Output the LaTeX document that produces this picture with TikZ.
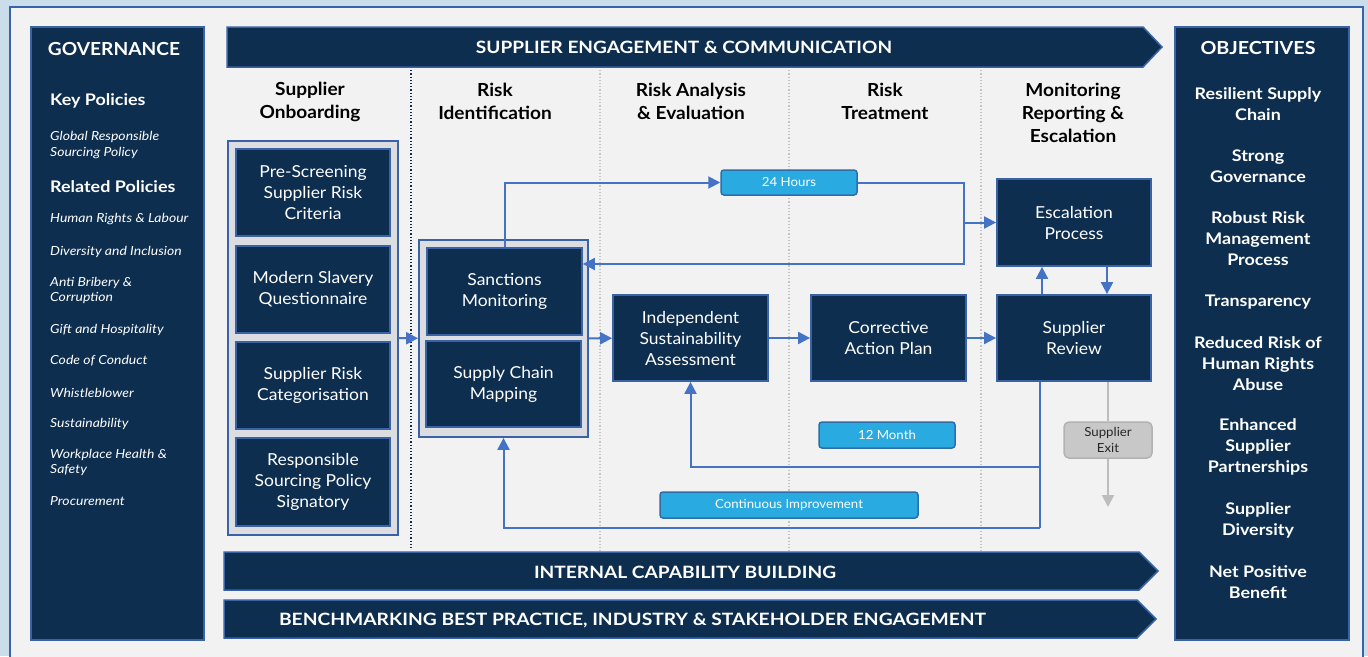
\documentclass[tikz,border=0pt]{standalone}
\usepackage{fontspec}
\setmainfont{Lato}[FakeStretch=1.06]
\newfontfamily\widefont{Lato}[FakeStretch=1.12]
\usepackage{graphicx}
\usetikzlibrary{arrows.meta,calc}
\definecolor{navy}{HTML}{0D2E4F}
\definecolor{bordblue}{HTML}{3A62A7}
\definecolor{lineblue}{HTML}{4472C4}
\definecolor{skyfill}{HTML}{29ABE2}
\definecolor{skyline}{HTML}{2E6DA8}
\definecolor{outerbg}{HTML}{C9DDEA}
\definecolor{framebg}{HTML}{F2F2F2}
\definecolor{groupbg}{HTML}{DCDDE1}
\definecolor{exitfill}{HTML}{C8C8C8}
\definecolor{exitline}{HTML}{B2B2B2}
\definecolor{exitarrow}{HTML}{BDBDBD}
\definecolor{divgrey}{HTML}{C4C4C4}
\newcommand\boxfont{\fontsize{16.5}{21}\selectfont}
\newcommand\headfont{\fontsize{18}{23}\selectfont\bfseries}
\newcommand\objfont{\widefont\fontsize{16}{21}\selectfont\bfseries}
\newcommand\polfont{\widefont\fontsize{12.5}{15.5}\selectfont\itshape}
\newcommand\labfont{\fontsize{12.5}{15}\selectfont}
\begin{document}
\begin{tikzpicture}[x=1pt,y=-1pt,
  navybox/.style={draw=bordblue, line width=1.8pt, fill=navy, text=white, inner sep=0pt, align=center, font=\boxfont},
  groupbox/.style={draw=bordblue, line width=1.8pt, fill=groupbg, inner sep=0pt},
  panel/.style={draw=bordblue, line width=1.5pt, fill=navy, inner sep=0pt},
  skylabel/.style={draw=skyline, line width=1.5pt, fill=skyfill, rounded corners=3pt, text=white, inner sep=0pt, font=\labfont},
  exitbox/.style={draw=exitline, line width=1.5pt, fill=exitfill, rounded corners=5pt, text=black!85, inner sep=0pt, align=center, font=\fontsize{12.5}{15.5}\selectfont},
  banner/.style={draw=bordblue, line width=1.5pt, fill=navy},
  bannertext/.style={text=white, font=\fontsize{17}{20}\selectfont\bfseries, inner sep=0pt},
  paneltitle/.style={text=white, font=\fontsize{18}{20}\selectfont\bfseries, inner sep=0pt},
  heading/.style={text=black, font=\headfont, align=center, inner sep=0pt},
  objtext/.style={text=white, font=\objfont, align=center, inner sep=0pt},
  poltext/.style={text=white, font=\polfont, align=left, anchor=west, inner sep=0pt},
  polhead/.style={text=white, font=\widefont\fontsize{16}{20}\selectfont\bfseries, anchor=west, inner sep=0pt},
  arr/.style={draw=lineblue, line width=2pt, -{Triangle[length=12pt,width=12pt]}},
  conn/.style={draw=lineblue, line width=2pt},
  greyarr/.style={draw=exitarrow, line width=2pt, -{Triangle[length=12pt,width=12pt]}},
  greyline/.style={draw=exitarrow, line width=2pt},
]
\useasboundingbox (0,0) rectangle (1368,656);
\fill[outerbg] (0,0) rectangle (1368,656);
\draw[draw=bordblue, line width=2pt, fill=framebg] (10,7) rectangle (1363,700);

% dividers
\draw[navy, line width=1.2pt, dotted] (411,67) -- (411,550);
\foreach \xx in {600,789,981} \draw[divgrey, line width=1.2pt, dotted] (\xx,67) -- (\xx,552);

% governance panel
\node[panel, minimum width=173pt, minimum height=613pt] (gov) at (117.5,333.5) {};
\node[paneltitle] (govt) at (114,48.5) {\resizebox{132pt}{\height}{GOVERNANCE}};
\node[polhead] (kp) at (50,100.5) {Key Policies};
\node[poltext] (p0) at (50,145) {Global Responsible\\Sourcing Policy};
\node[polhead] (rp) at (50,186.5) {Related Policies};
\node[poltext] (p1) at (50,219.5) {Human Rights \& Labour};
\node[poltext] (p2) at (50,251.5) {Diversity and Inclusion};
\node[poltext] (p3) at (50,290.5) {Anti Bribery \&\\Corruption};
\node[poltext] (p4) at (50,329.5) {Gift and Hospitality};
\node[poltext] (p5) at (50,360.5) {Code of Conduct};
\node[poltext] (p6) at (50,392.5) {Whistleblower};
\node[poltext] (p7) at (50,423.5) {Sustainability};
\node[poltext] (p8) at (50,462.5) {Workplace Health \&\\Safety};
\node[poltext] (p9) at (50,501.5) {Procurement};

% objectives panel
\node[panel, minimum width=174pt, minimum height=613pt] (obj) at (1262,333.5) {};
\node[paneltitle] (objt) at (1258,48) {\resizebox{115pt}{\height}{OBJECTIVES}};
\node[objtext] (o1) at (1258,104) {Resilient Supply\\Chain};
\node[objtext] (o2) at (1258,166.5) {Strong\\Governance};
\node[objtext] (o3) at (1258,239) {Robust Risk\\Management\\Process};
\node[objtext] (o4) at (1258,302) {Transparency};
\node[objtext] (o5) at (1258,364) {Reduced Risk of\\Human Rights\\Abuse};
\node[objtext] (o6) at (1258,447) {Enhanced\\Supplier\\Partnerships};
\node[objtext] (o7) at (1258,520) {Supplier\\Diversity};
\node[objtext] (o8) at (1258,582.5) {Net Positive\\Benefit};

% banners
\draw[banner] (227,27) -- (1143,27) -- (1162,47) -- (1143,67) -- (227,67) -- cycle;
\node[bannertext] (b1) at (684,47.5) {\resizebox{416pt}{\height}{SUPPLIER ENGAGEMENT \& COMMUNICATION}};
\draw[banner] (224,552) -- (1139,552) -- (1158,571) -- (1139,590) -- (224,590) -- cycle;
\node[bannertext] (b2) at (685,572.5) {\resizebox{302pt}{\height}{INTERNAL CAPABILITY BUILDING}};
\draw[banner] (224,600) -- (1137,600) -- (1156,619) -- (1137,638) -- (224,638) -- cycle;
\node[bannertext] (b3) at (632.5,620.5) {\resizebox{707pt}{\height}{BENCHMARKING BEST PRACTICE, INDUSTRY \& STAKEHOLDER ENGAGEMENT}};

% headings
\node[heading] (h1) at (310,101.5) {Supplier\\Onboarding};
\node[heading] (h2) at (495,101.5) {Risk\\Identification};
\node[heading] (h3) at (691,101.5) {Risk Analysis\\\& Evaluation};
\node[heading] (h4) at (885,101.5) {Risk\\Treatment};
\node[heading] (h5) at (1073,113) {Monitoring\\Reporting \&\\Escalation};

% onboarding group
\node[groupbox, minimum width=170pt, minimum height=394pt] (onb) at (313,338) {};
\node[navybox, minimum width=154pt, minimum height=87pt] (ps) at (313,192.5) {Pre-Screening\\Supplier Risk\\Criteria};
\node[navybox, minimum width=154pt, minimum height=87pt] (ms) at (313,289.5) {Modern Slavery\\Questionnaire};
\node[navybox, minimum width=154pt, minimum height=87pt] (rc) at (313,385.5) {Supplier Risk\\Categorisation};
\node[navybox, minimum width=154pt, minimum height=88pt] (rs) at (313,482) {Responsible\\Sourcing Policy\\Signatory};

% risk identification group
\node[groupbox, minimum width=169pt, minimum height=197pt] (rid) at (503.5,338.5) {};
\node[navybox, minimum width=155pt, minimum height=87pt] (sm) at (504.5,291.5) {Sanctions\\Monitoring};
\node[navybox, minimum width=155pt, minimum height=86pt] (scm) at (503.5,384) {Supply Chain\\Mapping};

% process boxes
\node[navybox, minimum width=155pt, minimum height=86pt] (isa) at (690.5,338) {Independent\\Sustainability\\Assessment};
\node[navybox, minimum width=155pt, minimum height=86pt] (cap) at (888.5,338) {Corrective\\Action Plan};
\node[navybox, minimum width=154pt, minimum height=86pt] (sr) at (1074,338) {Supplier\\Review};
\node[navybox, minimum width=154pt, minimum height=87pt] (esc) at (1074,222.5) {Escalation\\Process};

% labels
\node[skylabel, minimum width=136pt, minimum height=25pt] (h24) at (789,182.5) {24 Hours};
\node[skylabel, minimum width=136pt, minimum height=26pt] (m12) at (887,435) {12 Month};
\node[skylabel, minimum width=258pt, minimum height=26pt] (ci) at (789,505) {Continuous Improvement};
\node[exitbox, minimum width=88pt, minimum height=36pt] (exit) at (1108,440) {Supplier\\Exit};

% connectors
\draw[arr] (onb) -- (rid);
\draw[arr] (rid) -- (isa);
\draw[arr] (isa) -- (cap);
\draw[arr] (cap) -- (sr);
\draw[arr] (sm.north) |- (h24.west);
\coordinate (j1) at (964,264);
\coordinate (j2) at (964,222.5);
\draw[arr] (h24.east) -| (j1) -- (j1 -| sm.east);
\draw[arr] (j2) -- (esc.west);
\draw[arr] ([xshift=-32pt]sr.north) -- ([xshift=-32pt]esc.south);
\draw[arr] ([xshift=33pt]esc.south) -- ([xshift=33pt]sr.north);
\draw[greyline] ([xshift=34pt]sr.south) -- (exit.north);
\coordinate (exend) at (1108,507);
\draw[greyarr] (exit.south) -- (exend);
\coordinate (l1) at (1040,528);
\coordinate (l2) at (1040,467);
\draw[conn] ([xshift=-34pt]sr.south) -- (l1);
\draw[arr] (l1) -| (rid.south);
\draw[arr] (l2) -| (isa.south);
\end{tikzpicture}
\end{document}
